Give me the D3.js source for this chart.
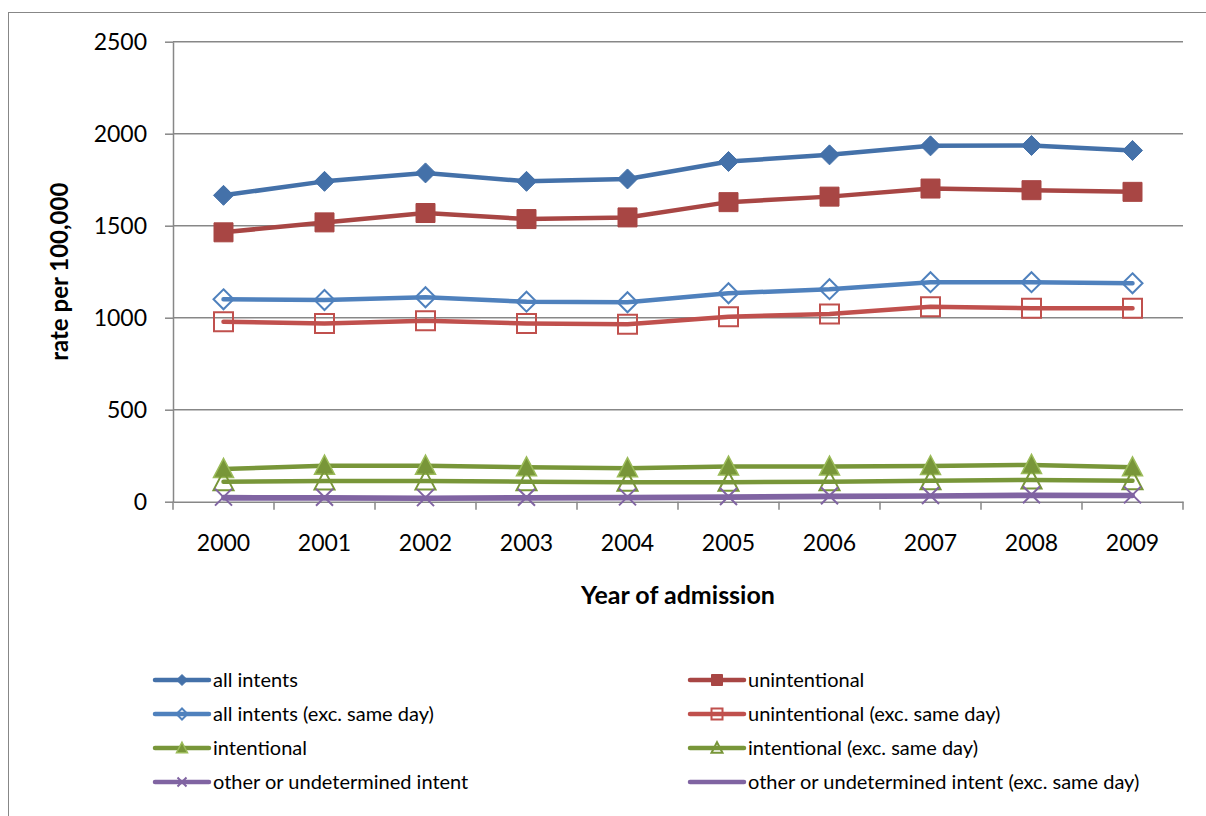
<!DOCTYPE html>
<html>
<head>
<meta charset="utf-8">
<script src="https://cdn.jsdelivr.net/npm/d3@7"></script>
<style>
  html, body { margin: 0; padding: 0; background: #fff; }
  svg { display: block; }
  text { font-family: "Lato", "Open Sans", sans-serif; fill: #000; }
</style>
</head>
<body>
<svg id="chart" width="1206" height="816"></svg>
<script>
// Admission rates per 100,000 by intent, 2000-2009
const years = ["2000","2001","2002","2003","2004","2005","2006","2007","2008","2009"];
const yTicks = [0, 500, 1000, 1500, 2000, 2500];

const allIntents       = [1665, 1741, 1787, 1741, 1754, 1849, 1885, 1934, 1936, 1909];
const unintentional    = [1464, 1518, 1569, 1536, 1545, 1628, 1658, 1702, 1693, 1684];
const allIntentsExc    = [1100, 1096, 1111, 1087, 1084, 1133, 1155, 1193, 1193, 1187];
const unintentionalExc = [978, 969, 984, 969, 964, 1005, 1020, 1060, 1051, 1051];
const intentional      = [178, 196, 196, 187, 182, 191, 191, 194, 200, 187];
const intentionalExc   = [109, 113, 113, 109, 106, 106, 109, 114, 118, 114];
const otherIntent      = [25, 24, 22, 24, 26, 28, 32, 34, 38, 37];
const otherIntentExc   = [18, 17, 16, 17, 19, 22, 25, 28, 31, 31];

const seriesNames = [
  "all intents", "unintentional",
  "all intents (exc. same day)", "unintentional (exc. same day)",
  "intentional", "intentional (exc. same day)",
  "other or undetermined intent", "other or undetermined intent (exc. same day)"
];

// drawing order follows the series order; styles per series
const series = [
  { name: seriesNames[0], values: allIntents,       color: "#4471A9", marker: "diamond",  filled: true,  width: 4.5 },
  { name: seriesNames[1], values: unintentional,    color: "#A84644", marker: "square",   filled: true,  width: 4.5 },
  { name: seriesNames[2], values: allIntentsExc,    color: "#4F81BD", marker: "diamond",  filled: false, width: 4.5 },
  { name: seriesNames[3], values: unintentionalExc, color: "#C0504D", marker: "square",   filled: false, width: 4.5 },
  { name: seriesNames[4], values: intentional,      color: "#789639", marker: "triangle", filled: true,  width: 4.5, edge: "#9BBB59" },
  { name: seriesNames[5], values: intentionalExc,   color: "#789639", marker: "triangle", filled: false, width: 4.5 },
  { name: seriesNames[6], values: otherIntent,      color: "#8064A2", marker: "x",        filled: false, width: 4.5 },
  { name: seriesNames[7], values: otherIntentExc,   color: "#8064A2", marker: null,       filled: false, width: 4.5 }
];

const svg = d3.select("#chart");
const gridColor = "#878787";

// chart frame
svg.append("rect")
  .attr("x", 8.5).attr("y", 12.5)
  .attr("width", 1400).attr("height", 1000)
  .attr("fill", "none").attr("stroke", gridColor).attr("stroke-width", 1);

const plot = { left: 173, right: 1183, top: 41.7, bottom: 501.7 };

const x = d3.scaleBand().domain(years).range([plot.left, plot.right]).padding(0);
const y = d3.scaleLinear().domain([0, 2500]).range([plot.bottom, plot.top]);
const cx = yr => x(yr) + x.bandwidth() / 2;

// horizontal gridlines
svg.append("g")
  .selectAll("line")
  .data(yTicks.filter(t => t > 0))
  .join("line")
  .attr("x1", plot.left).attr("x2", plot.right)
  .attr("y1", d => y(d)).attr("y2", d => y(d))
  .attr("stroke", gridColor).attr("stroke-width", 1.5);

// y axis
const yAxis = svg.append("g")
  .attr("transform", `translate(${plot.left},0)`)
  .call(d3.axisLeft(y).tickValues(yTicks).tickFormat(d3.format("d"))
    .tickSizeInner(8).tickSizeOuter(0).tickPadding(18));
yAxis.select(".domain").attr("stroke", gridColor).attr("stroke-width", 1.5);
yAxis.selectAll(".tick line").attr("stroke", gridColor).attr("stroke-width", 1.5);
yAxis.selectAll(".tick text")
  .style("font-family", "Lato, 'Open Sans', sans-serif")
  .style("font-size", "23px").attr("fill", "#000");

// x axis: labels at category centres, tick marks at category boundaries
const xAxis = svg.append("g")
  .attr("transform", `translate(0,${plot.bottom})`)
  .call(d3.axisBottom(x).tickSizeInner(0).tickSizeOuter(0).tickPadding(33));
xAxis.select(".domain").attr("stroke", gridColor).attr("stroke-width", 1.5);
xAxis.selectAll(".tick text")
  .style("font-family", "Lato, 'Open Sans', sans-serif")
  .style("font-size", "23px").attr("fill", "#000");
xAxis.selectAll("line.boundary")
  .data(years.map(yr => x(yr)).concat([plot.right]))
  .join("line").attr("class", "boundary")
  .attr("x1", d => d).attr("x2", d => d)
  .attr("y1", 0).attr("y2", 8)
  .attr("stroke", gridColor).attr("stroke-width", 1.5);

// axis titles
svg.append("text")
  .attr("x", 678).attr("y", 604)
  .attr("text-anchor", "middle")
  .style("font-weight", "bold").style("font-size", "25px")
  .text("Year of admission");

svg.append("text")
  .attr("transform", `translate(68,${(plot.top + plot.bottom) / 2}) rotate(-90)`)
  .attr("text-anchor", "middle")
  .style("font-weight", "bold").style("font-size", "24px")
  .text("rate per 100,000");

// marker shapes
function markerPath(type, s) {
  const h = s / 2;
  switch (type) {
    case "diamond":  return `M0,${-h}L${h},0L0,${h}L${-h},0Z`;
    case "square":   return `M${-h},${-h}H${h}V${h}H${-h}Z`;
    case "triangle": return `M0,${-h * 1.05}L${h},${h * 0.85}L${-h},${h * 0.85}Z`;
    case "x":        return `M${-h},${-h}L${h},${h}M${h},${-h}L${-h},${h}`;
  }
  return "";
}

function drawMarker(g, s, size) {
  if (!s.marker) return;
  const p = g.append("path").attr("d", markerPath(s.marker, size));
  if (s.marker === "x") {
    p.attr("fill", "none").attr("stroke", s.color).attr("stroke-width", 2);
  } else if (s.filled) {
    p.attr("fill", s.color).attr("stroke", s.edge || s.color).attr("stroke-width", s.edge ? 1.5 : 1);
  } else {
    p.attr("fill", "none").attr("stroke", s.color).attr("stroke-width", 2);
  }
}

const line = d3.line()
  .x((d, i) => cx(years[i]))
  .y(d => y(d));

const markerSize = { diamond: 20, square: 19, triangle: 20, x: 17 };

series.forEach(s => {
  const g = svg.append("g");
  g.append("path")
    .datum(s.values)
    .attr("d", line)
    .attr("fill", "none")
    .attr("stroke", s.color)
    .attr("stroke-width", s.width)
    .attr("stroke-linecap", "round")
    .attr("stroke-linejoin", "round");
  s.values.forEach((v, i) => {
    const mg = g.append("g").attr("transform", `translate(${cx(years[i])},${y(v)})`);
    drawMarker(mg, s, markerSize[s.marker]);
  });
});

// legend: two columns, filled row by row in series order
const legendRows = [680, 714, 748, 782];
const legendCols = [155, 690];
series.forEach((s, i) => {
  const col = i % 2, row = Math.floor(i / 2);
  const lx = legendCols[col], ly = legendRows[row];
  const g = svg.append("g").attr("transform", `translate(${lx},${ly})`);
  g.append("line")
    .attr("x1", 0).attr("x2", 54).attr("y1", 0).attr("y2", 0)
    .attr("stroke", s.color).attr("stroke-width", 4.5)
    .attr("stroke-linecap", "round");
  const mg = g.append("g").attr("transform", "translate(27,0)");
  drawMarker(mg, s, s.marker === "x" ? 9 : 11);
  g.append("text")
    .attr("x", 58).attr("y", 0).attr("dy", "0.35em")
    .style("font-size", "20px")
    .text(s.name);
});
</script>
</body>
</html>
